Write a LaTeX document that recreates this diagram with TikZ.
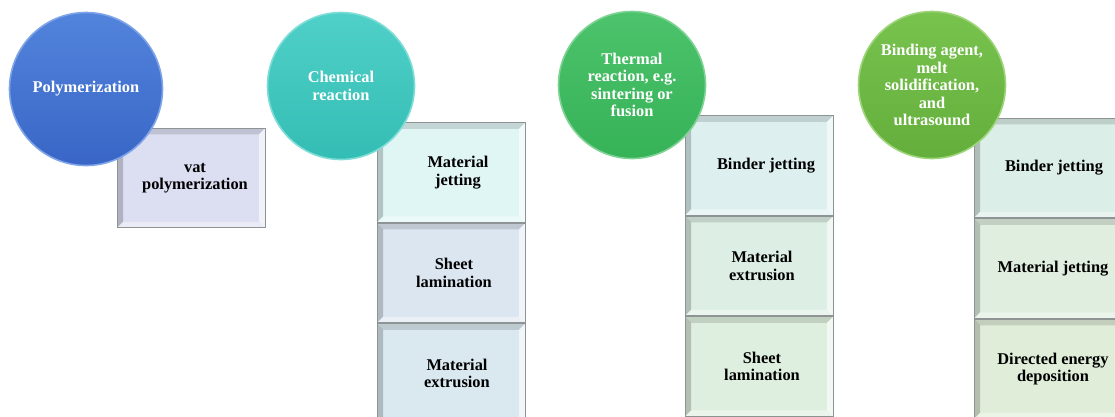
\documentclass[tikz,border=0pt]{standalone}
\usepackage{fontspec}
\setmainfont{Liberation Serif}
\usetikzlibrary{positioning,calc}
\definecolor{boxline}{HTML}{8E9494}
\definecolor{bA}{HTML}{DCDFF2}
\definecolor{bB1}{HTML}{E0F6F5}
\definecolor{bB2}{HTML}{DCE6F1}
\definecolor{bB3}{HTML}{DAE9F0}
\definecolor{bC1}{HTML}{DDEFEF}
\definecolor{bC2}{HTML}{DDEFE4}
\definecolor{bC3}{HTML}{DFEFDF}
\definecolor{bD1}{HTML}{DBEEE7}
\definecolor{bD2}{HTML}{DFEEDF}
\definecolor{bD3}{HTML}{E0EED9}
\definecolor{cAt}{HTML}{5284DC}\definecolor{cAb}{HTML}{3966C6}\definecolor{cAr}{HTML}{7FA4E8}
\definecolor{cBt}{HTML}{4FD0C8}\definecolor{cBb}{HTML}{34BDB4}\definecolor{cBr}{HTML}{7EDDD6}
\definecolor{cCt}{HTML}{4CC36C}\definecolor{cCb}{HTML}{36B257}\definecolor{cCr}{HTML}{7ED394}
\definecolor{cDt}{HTML}{78C24E}\definecolor{cDb}{HTML}{64AF3C}\definecolor{cDr}{HTML}{9ED47A}
\tikzset{
  x=1pt, y=-1pt,
  txt/.style={font=\bfseries\fontsize{16.4}{17.5}\selectfont, align=center},
  circ/.style={circle, inner sep=0pt, minimum size=147pt, txt, text=white, line width=1.6pt},
  boxnode/.style={rectangle, draw=boxline, line width=1pt, minimum width=148pt, minimum height=99.5pt,
    inner sep=0pt, txt, text=black, fill=#1,
    path picture={
      \coordinate (nw) at (path picture bounding box.north west);
      \coordinate (ne) at (path picture bounding box.north east);
      \coordinate (sw) at (path picture bounding box.south west);
      \coordinate (se) at (path picture bounding box.south east);
      \fill[black,opacity=.13] (nw) -- (ne) -- ($(ne)+(-6,6)$) -- ($(nw)+(6,6)$) -- cycle;
      \fill[black,opacity=.20] (nw) -- (sw) -- ($(sw)+(6,-6)$) -- ($(nw)+(6,6)$) -- cycle;
      \fill[white,opacity=.6] (ne) -- (se) -- ($(se)+(-6,-6)$) -- ($(ne)+(-6,6)$) -- cycle;
      \fill[white,opacity=.4] (sw) -- (se) -- ($(se)+(-6,-6)$) -- ($(sw)+(6,-6)$) -- cycle;
    }},
}
\begin{document}
\begin{tikzpicture}
\clip (0,0) rectangle (1115,416);
\fill[white] (0,0) rectangle (1115,416);
% boxes
\node[boxnode=bA] (a1) at (191,178) {\hspace*{8pt}vat\\\hspace*{8pt}polymerization};
\node[boxnode=bB1] (b1) at (451,172.5) {\hspace*{14pt}Material\\\hspace*{14pt}jetting};
\node[boxnode=bB2, below=0pt of b1] (b2) {\hspace*{6pt}Sheet\\\hspace*{6pt}lamination};
\node[boxnode=bB3, below=0pt of b2] (b3) {\hspace*{12pt}Material\\\hspace*{12pt}extrusion};
\node[boxnode=bC1] (c1) at (759,165.5) {\hspace*{14pt}Binder jetting};
\node[boxnode=bC2, below=0pt of c1] (c2) {\hspace*{6pt}Material\\\hspace*{6pt}extrusion};
\node[boxnode=bC3, below=0pt of c2] (c3) {\hspace*{6pt}Sheet\\\hspace*{6pt}lamination};
\node[boxnode=bD1] (d1) at (1048,168) {\hspace*{12pt}Binder jetting};
\node[boxnode=bD2, below=0pt of d1] (d2) {\hspace*{10pt}Material jetting};
\node[boxnode=bD3, below=0pt of d2] (d3) {\hspace*{10pt}Directed energy\\\hspace*{10pt}deposition};
% circles
\node[circ, minimum size=153pt, top color=cAt, bottom color=cAb, draw=cAr] (pa) at (86,89) {Polymerization};
\node[circ, top color=cBt, bottom color=cBb, draw=cBr] (pb) at (341,86) {Chemical\\reaction};
\node[circ, top color=cCt, bottom color=cCb, draw=cCr] (pc) at (632,85) {Thermal\\reaction, e.g.\\sintering or\\fusion};
\node[circ, top color=cDt, bottom color=cDb, draw=cDr] (pd) at (932,85) {Binding agent,\\melt\\solidification,\\and\\ultrasound};
\end{tikzpicture}
\end{document}
